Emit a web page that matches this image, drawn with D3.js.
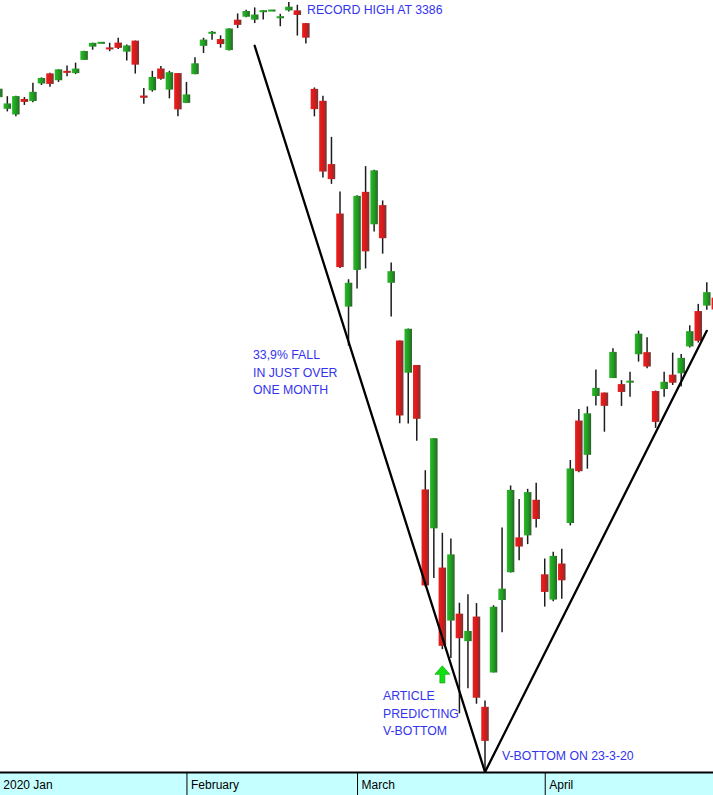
<!DOCTYPE html>
<html><head><meta charset="utf-8">
<script src="https://cdn.jsdelivr.net/npm/d3@7"></script>
<style>html,body{margin:0;padding:0;background:#fff;overflow:hidden}svg{display:block}</style>
</head><body>
<script>
// ---- data (S&P 500 daily candles, Jan–Apr 2020) ----
const dates = ["2020-01-02","2020-01-03","2020-01-06","2020-01-07","2020-01-08","2020-01-09","2020-01-10","2020-01-13","2020-01-14","2020-01-15","2020-01-16","2020-01-17","2020-01-20","2020-01-21","2020-01-22","2020-01-23","2020-01-24","2020-01-27","2020-01-28","2020-01-29","2020-01-30","2020-01-31",
"2020-02-03","2020-02-04","2020-02-05","2020-02-06","2020-02-07","2020-02-10","2020-02-11","2020-02-12","2020-02-13","2020-02-14","2020-02-17","2020-02-18","2020-02-19","2020-02-20","2020-02-21","2020-02-24","2020-02-25","2020-02-26","2020-02-27","2020-02-28",
"2020-03-02","2020-03-03","2020-03-04","2020-03-05","2020-03-06","2020-03-09","2020-03-10","2020-03-11","2020-03-12","2020-03-13","2020-03-16","2020-03-17","2020-03-18","2020-03-19","2020-03-20","2020-03-23","2020-03-24","2020-03-25","2020-03-26","2020-03-27","2020-03-30","2020-03-31",
"2020-04-01","2020-04-02","2020-04-03","2020-04-06","2020-04-07","2020-04-08","2020-04-09","2020-04-13","2020-04-14","2020-04-15","2020-04-16","2020-04-17","2020-04-20","2020-04-21","2020-04-22","2020-04-23","2020-04-24","2020-04-27","2020-04-28","2020-04-29","2020-04-30"];
const open = [3244.67,3226.36,3217.55,3241.86,3238.59,3266.03,3281.81,3271.13,3285.35,3282.27,3302.97,3323.66,3329.62,3321.03,3330.02,3315.77,3333.10,3247.16,3255.35,3289.46,3256.45,3282.33,
3235.66,3280.61,3324.91,3344.92,3335.54,3318.28,3365.87,3370.50,3365.90,3378.08,3380.16,3369.04,3380.39,3380.45,3360.50,3257.61,3238.94,3139.90,3062.54,2916.90,
2974.28,3096.46,3045.75,3075.70,2954.20,2863.89,2813.48,2825.60,2630.86,2569.99,2508.59,2425.66,2436.50,2393.48,2431.94,2290.71,2344.44,2457.77,2501.29,2555.87,2558.98,2614.69,
2498.08,2458.54,2514.92,2578.28,2738.65,2685.00,2776.99,2782.46,2805.10,2795.64,2799.34,2842.43,2845.62,2784.81,2787.89,2810.42,2812.64,2854.65,2909.96,2918.46,2930.91];
const high = [3258.14,3246.15,3246.84,3244.91,3267.07,3275.58,3282.99,3288.13,3294.25,3298.66,3317.11,3329.88,3329.62,3329.79,3337.77,3326.88,3333.18,3258.85,3285.78,3293.47,3285.91,3282.33,
3268.44,3306.92,3337.58,3347.96,3341.42,3352.26,3375.63,3381.47,3385.09,3380.69,3380.16,3375.01,3393.52,3389.15,3360.76,3259.81,3246.99,3182.51,3097.07,2959.72,
3090.96,3136.72,3130.97,3083.04,2985.93,2863.89,2882.59,2825.60,2660.95,2711.33,2562.98,2553.93,2453.57,2466.97,2453.01,2300.73,2449.71,2571.42,2637.01,2615.91,2631.80,2641.39,
2522.75,2533.22,2538.18,2676.85,2756.89,2760.75,2818.57,2782.46,2851.85,2801.88,2815.10,2879.22,2868.98,2785.54,2815.10,2844.90,2842.71,2887.72,2921.15,2954.86,2930.91];
const low = [3235.53,3222.34,3214.64,3232.43,3236.67,3263.67,3260.86,3268.43,3277.19,3280.69,3302.82,3318.86,3329.62,3316.61,3320.04,3301.87,3281.53,3234.50,3253.22,3271.89,3242.80,3214.68,
3235.66,3280.61,3313.75,3334.39,3322.12,3317.77,3352.72,3369.72,3360.52,3366.15,3380.16,3355.61,3378.83,3341.02,3328.45,3214.65,3118.77,3108.99,2977.39,2855.84,
2945.19,2976.63,3034.38,2999.83,2901.54,2734.43,2734.00,2707.22,2478.86,2492.37,2380.94,2367.04,2280.52,2319.78,2295.56,2191.86,2344.44,2407.53,2500.72,2520.02,2545.28,2571.15,
2447.49,2455.79,2459.96,2574.57,2657.67,2663.30,2762.36,2721.17,2805.10,2761.54,2775.95,2830.88,2820.43,2727.10,2775.95,2794.26,2791.76,2852.89,2860.71,2912.16,2892.47];
const close = [3257.85,3234.85,3246.28,3237.18,3253.05,3274.70,3265.35,3288.13,3283.15,3289.29,3316.81,3329.62,3329.62,3320.79,3321.75,3325.54,3295.47,3243.63,3276.24,3273.40,3283.66,3225.52,
3248.92,3297.59,3334.69,3345.78,3327.71,3352.09,3357.75,3379.45,3373.94,3380.16,3380.16,3370.29,3386.15,3373.23,3337.75,3225.89,3128.21,3116.39,2978.76,2954.22,
3090.23,3003.37,3130.12,3023.94,2972.37,2746.56,2882.23,2741.38,2480.64,2711.02,2386.13,2529.19,2398.10,2409.39,2304.92,2237.40,2447.33,2475.56,2630.07,2541.47,2626.65,2584.59,
2470.50,2526.90,2488.65,2663.68,2659.41,2749.98,2789.82,2761.63,2846.06,2783.36,2799.55,2874.56,2823.16,2736.56,2799.31,2797.80,2836.74,2878.48,2863.39,2939.51,2912.43];

const monthTicks  = ["2020-01-02","2020-02-03","2020-03-02","2020-04-01"];
const monthLabels = ["2020 Jan","February","March","April"];

// trend lines: [date, price] pairs
const fallLine = [["2020-02-13",3325],["2020-03-23",2188.7]];
const riseLine = [["2020-03-23",2188.7],["2020-04-29",2879]];
// arrow marking the article date: [date, tipPrice, basePrice]
const arrowMark = ["2020-03-16",2355,2328];

const notes = [
  {lines:["RECORD HIGH AT 3386"], x:307, y:14},
  {lines:["33,9% FALL","IN JUST OVER","ONE MONTH"], x:253, y:359},
  {lines:["ARTICLE","PREDICTING","V-BOTTOM"], x:383, y:700},
  {lines:["V-BOTTOM ON 23-3-20"], x:502, y:760}
];

// ---- drawing ----
const W = 713, H = 795, axisTop = 772;
const svg = d3.select("body").append("svg").attr("width",W).attr("height",H);

const x = d3.scalePoint().domain(dates).range([-1.2, -1.2 + 8.53*(dates.length-1)]);
const y = d3.scaleLinear().domain([2191.86, 3393.52]).range([770, 2]);

const defs = svg.append("defs");
function grad(id, stops){
  const g = defs.append("linearGradient").attr("id",id).attr("x1","0").attr("x2","1").attr("y1","0").attr("y2","0");
  stops.forEach(s=>g.append("stop").attr("offset",s[0]).attr("stop-color",s[1]));
}
grad("gUp",[[0,"#2cb82c"],[0.55,"#1e9c1e"],[1,"#2f5f2f"]]);
grad("gDn",[[0,"#ec1e1e"],[0.55,"#d51a1a"],[1,"#6a3a3a"]]);

const candles = dates.map((d,i)=>({d, o:open[i], h:high[i], l:low[i], c:close[i]}));
const bw = 7.5;

const g = svg.append("g");
g.selectAll("line.wick").data(candles).join("line")
  .attr("class","wick")
  .attr("x1",d=>x(d.d)).attr("x2",d=>x(d.d))
  .attr("y1",d=>y(d.h)).attr("y2",d=>Math.max(y(d.l), y(d.h)+0.01))
  .attr("stroke","#1c1c1c").attr("stroke-width",1.5);

g.selectAll("rect.body").data(candles).join("rect")
  .attr("class","body")
  .attr("x",d=>x(d.d)-bw/2)
  .attr("width",bw)
  .attr("y",d=>{const t=Math.min(y(d.o),y(d.c)), hgt=Math.abs(y(d.o)-y(d.c)); return hgt<2 ? (t+hgt/2-1) : t;})
  .attr("height",d=>Math.max(2, Math.abs(y(d.o)-y(d.c))))
  .attr("fill",d=>d.c>=d.o ? "url(#gUp)" : "url(#gDn)");

// trend lines
const lineGen = d3.line().x(p=>x(p[0])).y(p=>y(p[1]));
[fallLine, riseLine].forEach(L=>{
  svg.append("path").attr("d",lineGen(L)).attr("fill","none")
    .attr("stroke","#000").attr("stroke-width",2.3).attr("stroke-linecap","round");
});

// arrow
(function(){
  const ax = x(arrowMark[0]), yt = y(arrowMark[1]), yb = y(arrowMark[2]);
  const hh = (yb-yt)*0.5, hw = 7.5, sw = 2.5;
  const pts = [[ax,yt],[ax+hw,yt+hh],[ax+sw,yt+hh],[ax+sw,yb],[ax-sw,yb],[ax-sw,yt+hh],[ax-hw,yt+hh]];
  svg.append("polygon").attr("points",pts.map(p=>p.join(",")).join(" "))
    .attr("fill","#10e010").attr("stroke","#0a9a0a").attr("stroke-width",0.6);
})();

// notes
notes.forEach(n=>{
  const t = svg.append("text").attr("x",n.x).attr("y",n.y)
    .attr("font-family","'Liberation Sans', Arial, sans-serif").attr("font-size",12.3)
    .attr("fill","#3434ec");
  n.lines.forEach((s,i)=>t.append("tspan").attr("x",n.x).attr("dy",i?17.5:0).text(s));
});

// time axis band
svg.append("rect").attr("x",0).attr("y",axisTop).attr("width",W).attr("height",H-axisTop).attr("fill","#c6ffff");
const xAxis = d3.axisBottom(x).tickValues(monthTicks).tickSize(H-axisTop).tickSizeOuter(0)
  .tickFormat((d,i)=>monthLabels[i]);
const ag = svg.append("g").attr("transform",`translate(0,${axisTop})`).call(xAxis);
ag.select(".domain").remove();
ag.selectAll(".tick line").attr("stroke","#000").attr("stroke-width",1);
ag.selectAll(".tick text").attr("text-anchor","start").attr("x",4).attr("y",8.5).attr("dy","0.71em")
  .attr("font-family","'Liberation Sans', Arial, sans-serif").attr("font-size",12).attr("fill","#000");
svg.append("line").attr("x1",0).attr("x2",W).attr("y1",axisTop+0.5).attr("y2",axisTop+0.5)
  .attr("stroke","#000").attr("stroke-width",2);
</script>
</body></html>
